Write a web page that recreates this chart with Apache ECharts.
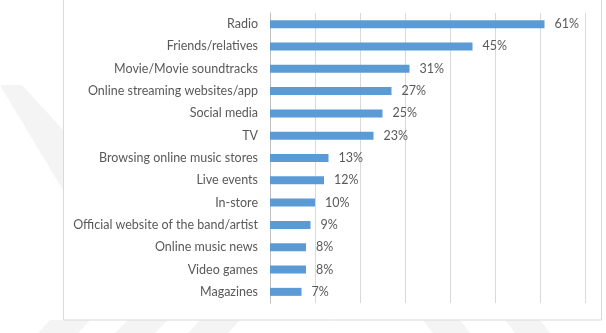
<!DOCTYPE html>
<html>
<head>
<meta charset="utf-8">
<script src="https://cdn.jsdelivr.net/npm/echarts@6/dist/echarts.min.js"></script>
<style>html,body{margin:0;padding:0;background:#fff}#c{width:606px;height:333px}</style>
</head>
<body>
<div id="c"></div>
<script>
const categories = ["Radio","Friends/relatives","Movie/Movie soundtracks","Online streaming websites/app","Social media","TV","Browsing online music stores","Live events","In-store","Official website of the band/artist","Online music news","Video games","Magazines"];
const values = [61,45,31,27,25,23,13,12,10,9,8,8,7];
const axisMax = 70;
const axisInterval = 10;

const chart = echarts.init(document.getElementById('c'), null, {renderer:'canvas'});
chart.setOption({
  animation:false,
  backgroundColor:'#fff',
  graphic:[
    {type:'polygon', z:-10, shape:{points:[[0,85],[22,85],[63,130],[63,190]]}, style:{fill:'#f4f4f4'}},
    {type:'polygon', z:-10, shape:{points:[[38,333],[50,320],[90,320],[78,333]]}, style:{fill:'#f4f4f4'}},
    {type:'polygon', z:-10, shape:{points:[[115,333],[128,320],[168,320],[155,333]]}, style:{fill:'#f4f4f4'}},
    {type:'polygon', z:-10, shape:{points:[[188,333],[200,320],[240,320],[228,333]]}, style:{fill:'#f4f4f4'}},
    {type:'polygon', z:-10, shape:{points:[[423,320],[460,320],[470,333],[433,333]]}, style:{fill:'#f4f4f4'}},
    {type:'polygon', z:-10, shape:{points:[[505,320],[540,320],[550,333],[515,333]]}, style:{fill:'#f4f4f4'}},
    {type:'rect', z:-5, shape:{x:63.5,y:-2,width:538,height:322}, style:{fill:'#fff',stroke:'#d9d9d9',lineWidth:1}}
  ],
  grid:{left:270,right:21,top:13,bottom:30,containLabel:false},
  xAxis:{
    type:'value', min:0, max:axisMax, interval:axisInterval,
    axisLabel:{show:false}, axisLine:{show:false}, axisTick:{show:false},
    splitLine:{show:true, lineStyle:{color:'#d9d9d9', width:1}}
  },
  yAxis:{
    type:'category', data:categories, inverse:true,
    axisLine:{show:true, lineStyle:{color:'#bfbfbf'}},
    axisTick:{show:false},
    axisLabel:{color:'#595959', fontFamily:'Lato', fontSize:12.5, margin:12}
  },
  series:[{
    type:'bar', data:values, barWidth:8,
    itemStyle:{color:'#5b9bd5'},
    label:{show:true, position:'right', distance:10, formatter:'{c}%', color:'#595959', fontFamily:'Lato', fontSize:12.5}
  }]
});
</script>
</body>
</html>
